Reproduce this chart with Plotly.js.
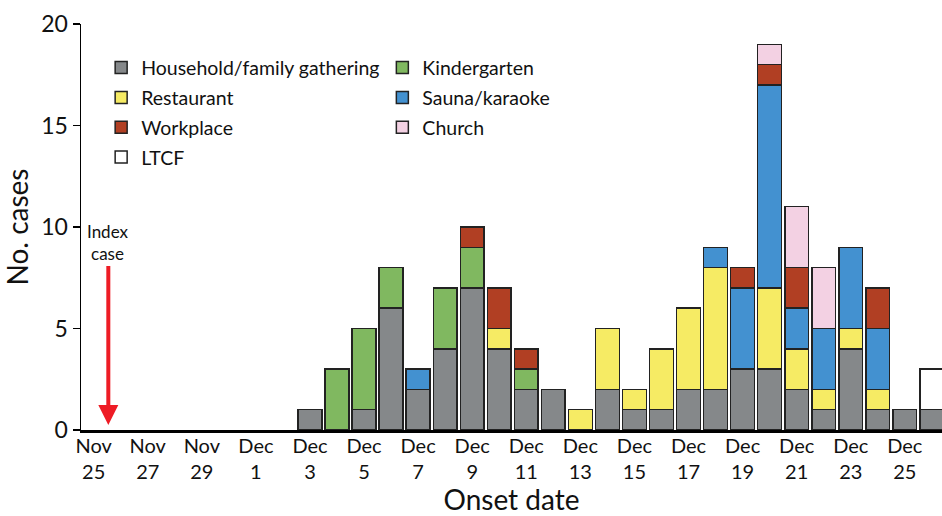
<!DOCTYPE html>
<html>
<head>
<meta charset="utf-8">
<script src="https://cdn.plot.ly/plotly-3.0.1.min.js"></script>
<style>html,body{margin:0;padding:0;background:#fff;}#chart{width:942px;height:516px;}</style>
</head>
<body>
<div id="chart"></div>
<script>
// Onset dates (2020), Dec 3 .. Dec 26
const dates = ["2020-12-03","2020-12-04","2020-12-05","2020-12-06","2020-12-07","2020-12-08",
  "2020-12-09","2020-12-10","2020-12-11","2020-12-12","2020-12-13","2020-12-14","2020-12-15",
  "2020-12-16","2020-12-17","2020-12-18","2020-12-19","2020-12-20","2020-12-21","2020-12-22",
  "2020-12-23","2020-12-24","2020-12-25","2020-12-26"];

const household    = [1,0,1,6,2,4,7,4,2,2,0,2,1,1,2,2,3,3,2,1,4,1,1,1];
const kindergarten = [0,3,4,2,0,3,2,0,1,0,0,0,0,0,0,0,0,0,0,0,0,0,0,0];
const restaurant   = [0,0,0,0,0,0,0,1,0,0,1,3,1,3,4,6,0,4,2,1,1,1,0,0];
const sauna        = [0,0,0,0,1,0,0,0,0,0,0,0,0,0,0,1,4,10,2,3,4,3,0,0];
const workplace    = [0,0,0,0,0,0,1,2,1,0,0,0,0,0,0,0,1,1,2,0,0,2,0,0];
const church       = [0,0,0,0,0,0,0,0,0,0,0,0,0,0,0,0,0,1,3,3,0,0,0,0];
const ltcf         = [0,0,0,0,0,0,0,0,0,0,0,0,0,0,0,0,0,0,0,0,0,0,0,2];

const seriesNames  = ["Household/family gathering","Kindergarten","Restaurant","Sauna/karaoke","Workplace","Church","LTCF"];
const seriesValues = [household, kindergarten, restaurant, sauna, workplace, church, ltcf];
const seriesColors = ["#85888a","#80b860","#f6eb64","#4391d0","#b13f23","#f3d1e3","#ffffff"];
// legend column for each series (two-column legend as in the original)
const seriesLegend = ["legend","legend2","legend","legend2","legend","legend2","legend"];

const tickStart = "2020-11-25";
const indexCaseDate = "2020-11-25 13:00";

const DAY = 86400000;
const FONT = "Lato, 'Open Sans', sans-serif";

const traces = seriesNames.map((name, i) => ({
  type: "bar",
  name: name,
  legend: seriesLegend[i],
  legendgroup: name,
  x: dates,
  y: seriesValues[i].map(v => v === 0 ? null : v),
  width: 0.88 * DAY,
  marker: {color: seriesColors[i], line: {color: "#222", width: 1.5}},
  hoverinfo: "skip"
}));

const legendBase = {
  orientation: "v", y: 0.94, xanchor: "left", yanchor: "top",
  font: {family: FONT, size: 19.5, color: "#111"},
  bgcolor: "rgba(0,0,0,0)", traceorder: "grouped", tracegroupgap: 1.5
};

const layout = {
  width: 942, height: 516,
  margin: {l: 81, r: 0, t: 24, b: 86},
  barmode: "stack",
  paper_bgcolor: "#fff", plot_bgcolor: "#fff",
  font: {family: FONT, color: "#111", size: 22},
  showlegend: true,
  legend: Object.assign({}, legendBase, {x: 0.0234}),
  legend2: Object.assign({}, legendBase, {x: 0.350}),
  xaxis: {
    type: "date",
    range: ["2020-11-24 12:45", "2020-12-26 09:00"],
    tick0: tickStart, dtick: 2 * DAY,
    tickformat: "%b<br>%-d",
    ticks: "", showgrid: false, zeroline: false,
    showline: true, linecolor: "#000", linewidth: 2.5,
    ticklabelstandoff: -4,
    tickfont: {family: FONT, size: 20, color: "#111"},
    title: {text: "Onset date", font: {family: FONT, size: 28, color: "#111"}, standoff: 4},
    fixedrange: true
  },
  yaxis: {
    range: [0, 20], tickvals: [0,5,10,15,20],
    ticks: "outside", ticklen: 7, tickwidth: 1.5, tickcolor: "#000",
    showgrid: false, zeroline: false,
    showline: true, linecolor: "#000", linewidth: 1.5,
    tickfont: {family: FONT, size: 23, color: "#111"},
    title: {text: "No. cases", font: {family: FONT, size: 28, color: "#111"}, standoff: 10},
    fixedrange: true
  },
  annotations: [{
    x: indexCaseDate, y: 0.25, xref: "x", yref: "y",
    text: "Index<br>case", showarrow: true,
    ax: 0, ay: -182, axref: "pixel", ayref: "pixel",
    arrowhead: 2, arrowsize: 1, arrowwidth: 4, arrowcolor: "#ee1c25",
    font: {family: FONT, size: 17, color: "#111"}
  }]
};

Plotly.newPlot("chart", traces, layout, {displayModeBar: false, staticPlot: true});
</script>
</body>
</html>
